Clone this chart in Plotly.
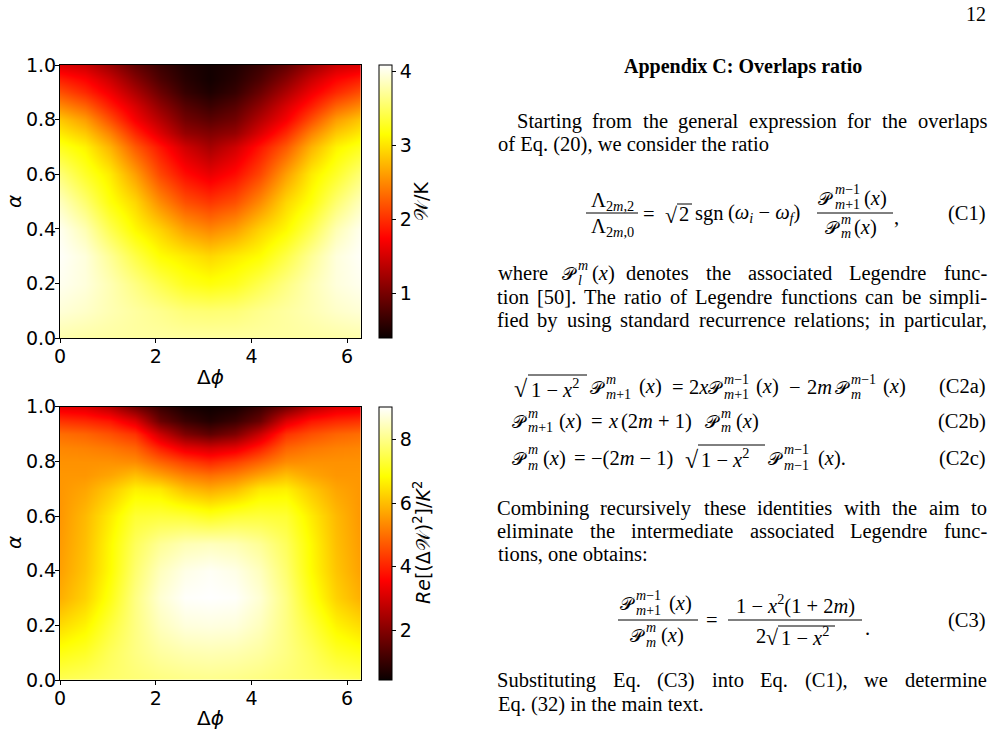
import plotly.graph_objects as go

# ---------------- data ----------------
dphi = [0.0, 0.524, 1.047, 1.571, 2.094, 2.618, 3.142, 3.665, 4.189, 4.712, 5.236, 5.760, 6.283]
alpha = [0.0, 0.1, 0.2, 0.3, 0.4, 0.5, 0.6, 0.7, 0.75, 0.8, 0.85, 0.9, 0.95, 1.0]

w_over_k = [
    [3.78, 3.76, 3.75, 3.74, 3.74, 3.74, 3.74, 3.74, 3.74, 3.74, 3.75, 3.76, 3.78],
    [3.94, 3.89, 3.81, 3.74, 3.67, 3.59, 3.57, 3.59, 3.67, 3.74, 3.81, 3.89, 3.94],
    [4.03, 3.96, 3.81, 3.63, 3.44, 3.26, 3.19, 3.26, 3.44, 3.63, 3.81, 3.96, 4.03],
    [4.07, 3.96, 3.70, 3.41, 3.15, 3.04, 2.93, 3.04, 3.15, 3.41, 3.70, 3.96, 4.07],
    [4.03, 3.81, 3.44, 3.12, 2.90, 2.62, 2.48, 2.62, 2.90, 3.12, 3.44, 3.81, 4.03],
    [3.85, 3.56, 3.19, 2.93, 2.51, 2.18, 2.04, 2.18, 2.51, 2.93, 3.19, 3.56, 3.85],
    [3.59, 3.30, 3.04, 2.62, 2.13, 1.80, 1.62, 1.80, 2.13, 2.62, 3.04, 3.30, 3.59],
    [3.26, 3.09, 2.73, 2.24, 1.85, 1.48, 1.25, 1.48, 1.85, 2.24, 2.73, 3.09, 3.26],
    [3.04, 2.85, 2.46, 1.96, 1.55, 1.16, 1.04, 1.16, 1.55, 1.96, 2.46, 2.85, 3.04],
    [2.85, 2.62, 2.18, 1.71, 1.34, 0.97, 0.84, 0.97, 1.34, 1.71, 2.18, 2.62, 2.85],
    [2.51, 2.29, 1.90, 1.53, 1.13, 0.81, 0.66, 0.81, 1.13, 1.53, 1.90, 2.29, 2.51],
    [2.18, 1.96, 1.66, 1.29, 0.92, 0.63, 0.50, 0.63, 0.92, 1.29, 1.66, 1.96, 2.18],
    [1.90, 1.74, 1.45, 1.08, 0.76, 0.55, 0.44, 0.55, 0.76, 1.08, 1.45, 1.74, 1.90],
    [1.55, 1.45, 1.18, 0.87, 0.65, 0.50, 0.44, 0.50, 0.65, 0.87, 1.18, 1.45, 1.55],
]

re_dw2 = [
    [7.55, 7.65, 7.75, 7.85, 7.95, 8.02, 8.05, 8.02, 7.95, 7.85, 7.75, 7.65, 7.55],
    [7.00, 7.19, 7.62, 7.96, 8.22, 8.35, 8.39, 8.35, 8.22, 7.96, 7.62, 7.19, 7.00],
    [6.40, 6.72, 7.36, 7.96, 8.47, 8.73, 8.77, 8.73, 8.47, 7.96, 7.36, 6.72, 6.40],
    [5.82, 6.27, 7.02, 7.96, 8.65, 8.99, 9.03, 8.99, 8.65, 7.96, 7.02, 6.27, 5.82],
    [5.63, 6.10, 6.82, 7.79, 8.47, 8.82, 8.95, 8.82, 8.47, 7.79, 6.82, 6.10, 5.63],
    [5.56, 6.02, 6.78, 7.62, 8.13, 8.39, 8.47, 8.39, 8.13, 7.62, 6.78, 6.02, 5.56],
    [5.50, 5.95, 6.60, 7.28, 7.36, 7.30, 7.10, 7.30, 7.36, 7.28, 6.60, 5.95, 5.50],
    [5.50, 5.69, 6.14, 6.66, 6.55, 6.00, 5.76, 6.00, 6.55, 6.66, 6.14, 5.69, 5.50],
    [5.50, 5.50, 5.69, 6.01, 5.63, 5.20, 4.98, 5.20, 5.63, 6.01, 5.69, 5.50, 5.50],
    [5.44, 5.44, 5.44, 5.37, 4.86, 4.40, 4.08, 4.40, 4.86, 5.37, 5.44, 5.44, 5.44],
    [5.30, 5.24, 5.11, 4.86, 3.96, 3.26, 3.00, 3.26, 3.96, 4.86, 5.11, 5.24, 5.30],
    [4.98, 4.86, 4.60, 4.21, 2.90, 1.91, 1.50, 1.91, 2.90, 4.21, 4.60, 4.86, 4.98],
    [4.21, 4.08, 3.83, 3.14, 1.66, 1.05, 0.75, 1.05, 1.66, 3.14, 3.83, 4.08, 4.21],
    [3.26, 3.14, 2.65, 1.78, 1.05, 0.61, 0.49, 0.61, 1.05, 1.78, 2.65, 3.14, 3.26],
]

x_ticks = [0, 2, 4, 6]
y_ticks = [0.0, 0.2, 0.4, 0.6, 0.8, 1.0]
cb1_ticks = [1, 2, 3, 4]
cb2_ticks = [2, 4, 6, 8]
cb1_range = [0.39, 4.09]
cb2_range = [0.43, 9.03]

# ---------------- styling ----------------
W, H = 994, 734
SANS = "DejaVu Sans"
SERIF = "Liberation Serif"
SP = "\U0001D4AB"   # script P
SW = "\U0001D4B2"   # script W
HOT = [[0.0, "rgb(10,0,0)"], [0.365079, "rgb(255,0,0)"],
       [0.746032, "rgb(255,255,0)"], [1.0, "rgb(255,255,255)"]]
TICKSZ = 19

def px(x):
    return x / W

def py(y):
    return 1 - y / H

annotations = []
shapes = []

def t(x, y, s, size=20.5, anchor="left", family=SERIF, angle=0):
    annotations.append(dict(x=px(x), y=py(y), xref="paper", yref="paper", text=s,
                            showarrow=False, xanchor=anchor, yanchor="middle",
                            textangle=angle, borderpad=0,
                            font=dict(family=family, size=size, color="black")))

def hline(x0, x1, y, w=1):
    shapes.append(dict(type="line", xref="paper", yref="paper", x0=px(x0), x1=px(x1),
                       y0=py(y), y1=py(y), line=dict(color="black", width=w)))

def P(xp, xi, y, sup=None, sub=None):
    t(xp - 1, y + 1, SP, 18)
    if sup:
        t(xi, y - 8, sup, 14)
    if sub:
        t(xi, y + 7, sub, 14)

TW = {' ': 250, 'a': 444, 'b': 500, 'c': 444, 'd': 500, 'e': 444, 'f': 333, 'g': 500,
      'h': 500, 'i': 278, 'j': 278, 'k': 500, 'l': 278, 'm': 778, 'n': 500, 'o': 500,
      'p': 500, 'q': 500, 'r': 333, 's': 389, 't': 278, 'u': 500, 'v': 500, 'w': 722,
      'x': 500, 'y': 500, 'z': 444, 'A': 722, 'C': 667, 'E': 611, 'L': 611, 'S': 556,
      'T': 611, '.': 250, ',': 250, ';': 278, ':': 278, '(': 333, ')': 333, '[': 333,
      ']': 333, '-': 333}

def wwidth(s, size):
    return sum(TW.get(c, 500) for c in s) * size / 1000.0

def justified(line, x0, x1, y, size=20.5):
    words = line.split(" ")
    widths = [wwidth(w, size) for w in words]
    gap = (x1 - x0 - sum(widths)) / (len(words) - 1)
    x = x0
    for w, wd in zip(words, widths):
        t(x + wd / 2, y, w, size, anchor="center")
        x += wd + gap

# ---------------- heatmaps ----------------
def cbar(top, bottom, ticks):
    return dict(x=px(379), xanchor="left", xpad=0, ypad=0,
                thickness=13, thicknessmode="pixels",
                len=(bottom - top) / H, lenmode="fraction",
                y=py((top + bottom) / 2), yanchor="middle",
                outlinewidth=1, outlinecolor="black",
                tickvals=ticks, ticks="outside", ticklen=4, tickcolor="black",
                tickfont=dict(family=SANS, size=TICKSZ, color="black"))

fig = go.Figure()
fig.add_trace(go.Heatmap(x=dphi, y=alpha, z=w_over_k, colorscale=HOT, zsmooth="best",
                         zmin=cb1_range[0], zmax=cb1_range[1], xaxis="x", yaxis="y",
                         colorbar=cbar(65, 338.3, cb1_ticks)))
fig.add_trace(go.Heatmap(x=dphi, y=alpha, z=re_dw2, colorscale=HOT, zsmooth="best",
                         zmin=cb2_range[0], zmax=cb2_range[1], xaxis="x2", yaxis="y2",
                         colorbar=cbar(406.7, 680, cb2_ticks)))

axis_common = dict(showline=True, linecolor="black", linewidth=1.2, mirror=True,
                   ticks="outside", ticklen=4, tickwidth=1.2, tickcolor="black",
                   showgrid=False, zeroline=False, automargin=False,
                   tickfont=dict(family=SANS, size=TICKSZ, color="black"))
xax = dict(range=[0, 6.283], tickvals=x_ticks, ticklabelstandoff=-3, **axis_common)
yax = dict(range=[0, 1], tickvals=y_ticks, tickformat=".1f", ticklabelstandoff=-5,
           **axis_common)

fig.update_layout(
    width=W, height=H, margin=dict(l=0, r=0, t=0, b=0, pad=0, autoexpand=False),
    paper_bgcolor="white", plot_bgcolor="white", showlegend=False,
    xaxis=dict(domain=[px(60), px(360.7)], anchor="y", **xax),
    yaxis=dict(domain=[py(338.3), py(65)], anchor="x", **yax),
    xaxis2=dict(domain=[px(60), px(360.7)], anchor="y2", **xax),
    yaxis2=dict(domain=[py(680), py(406.7)], anchor="x2", **yax),
)

# axis labels
t(14, 202, "<i>α</i>", 20, "center", SANS, -90)
t(210, 377, "Δ<i>ϕ</i>", 20, "center", SANS)
t(14, 543, "<i>α</i>", 20, "center", SANS, -90)
t(210, 718, "Δ<i>ϕ</i>", 20, "center", SANS)
t(421, 202, SW + "/K", 19, "center", SANS, -90)
t(422, 543, "<i>Re</i>[(Δ" + SW + ")<sup>2</sup>]/<i>K</i><sup>2</sup>", 19, "center", SANS, -90)

# ---------------- page text ----------------
t(987, 14, "12", 20, "right")
t(743, 67, "<b>Appendix C: Overlaps ratio</b>", 20, "center")

justified("Starting from the general expression for the overlaps", 517, 987, 121)
t(497, 144, "of Eq. (20), we consider the ratio")

# (C1)
t(612, 201, "Λ<sub>2<i>m</i>,2</sub>", 20.5, "center")
hline(586, 638, 213)
t(612, 227, "Λ<sub>2<i>m</i>,0</sub>", 20.5, "center")
t(642, 214, "=")
t(664, 215, "√", 22)
hline(677, 692, 204)
t(678, 214, "2")
t(694, 214, "sgn")
t(727, 214, "(<i>ω</i><sub><i>i</i></sub> − <i>ω</i><sub><i>f</i></sub>)")
P(818, 834, 198, "<i>m</i>−1", "<i>m</i>+1")
t(863, 198, "(<i>x</i>)")
hline(817, 893, 213)
P(825, 840, 227, "<i>m</i>", "<i>m</i>")
t(853, 227, "(<i>x</i>)")
t(893, 217, ",")
t(987, 214, "(C1)", anchor="right")

# paragraph 2
t(497, 273, "where")
P(562, 577, 273, "<i>m</i>", "<i>l</i>")
t(591, 273, "(<i>x</i>)")
justified("denotes the associated Legendre func-", 626, 987, 273)
justified("tion [50]. The ratio of Legendre functions can be simpli-", 497, 987, 297)
justified("fied by using standard recurrence relations; in particular,", 497, 987, 320)

# (C2a)
t(513, 389, "√", 24)
hline(528, 587, 375)
t(530, 388, "1 − <i>x</i><sup>2</sup>")
P(590, 605, 387, "<i>m</i>", "<i>m</i>+1")
t(638, 387, "(<i>x</i>)")
t(671, 387, "=")
t(688, 387, "2<i>x</i>")
P(708, 723, 387, "<i>m</i>−1", "<i>m</i>+1")
t(755, 387, "(<i>x</i>)")
t(788, 387, "−")
t(806, 387, "2<i>m</i>")
P(835, 850, 387, "<i>m</i>−1", "<i>m</i>")
t(882, 387, "(<i>x</i>)")
t(987, 387, "(C2a)", anchor="right")

# (C2b)
P(512, 527, 421, "<i>m</i>", "<i>m</i>+1")
t(558, 421, "(<i>x</i>)")
t(590, 421, "=")
t(607, 421, "<i>x</i>")
t(620, 421, "(2<i>m</i> + 1)")
P(705, 720, 421, "<i>m</i>", "<i>m</i>")
t(735, 421, "(<i>x</i>)")
t(987, 421, "(C2b)", anchor="right")

# (C2c)
P(512, 527, 458, "<i>m</i>", "<i>m</i>")
t(542, 458, "(<i>x</i>)")
t(573, 458, "=")
t(590, 458, "−(2<i>m</i> − 1)")
t(684, 460, "√", 24)
hline(698, 765, 445)
t(700, 458, "1 − <i>x</i><sup>2</sup>")
P(768, 783, 458, "<i>m</i>−1", "<i>m</i>−1")
t(817, 458, "(<i>x</i>).")
t(987, 458, "(C2c)", anchor="right")

# paragraph 3
justified("Combining recursively these identities with the aim to", 497, 987, 508)
justified("eliminate the intermediate associated Legendre func-", 497, 987, 531)
t(497, 554, "tions, one obtains:")

# (C3)
P(620, 635, 603, "<i>m</i>−1", "<i>m</i>+1")
t(668, 603, "(<i>x</i>)")
hline(618, 698, 620)
P(630, 645, 635, "<i>m</i>", "<i>m</i>")
t(660, 635, "(<i>x</i>)")
t(705, 620, "=")
t(795, 604, "1 − <i>x</i><sup>2</sup>(1 + 2<i>m</i>)", anchor="center")
hline(728, 862, 620)
t(755, 636, "2")
t(765, 637, "√", 22)
hline(778, 835, 626)
t(780, 636, "1 − <i>x</i><sup>2</sup>")
t(864, 628, ".")
t(987, 620, "(C3)", anchor="right")

# paragraph 4
justified("Substituting Eq. (C3) into Eq. (C1), we determine", 497, 987, 680)
t(497, 704, "Eq. (32) in the main text.")

fig.update_layout(annotations=annotations, shapes=shapes)
fig.write_html("out.html")
